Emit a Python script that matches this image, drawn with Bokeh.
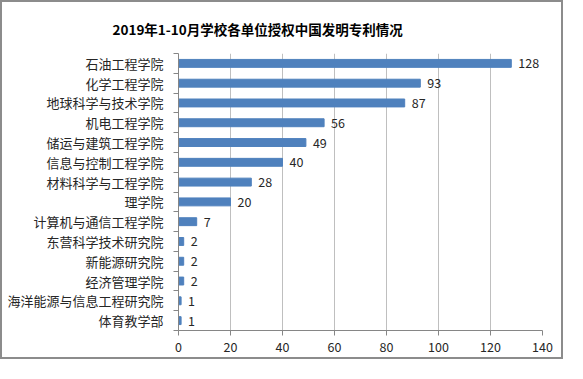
from bokeh.plotting import figure
from bokeh.models import ColumnDataSource, FixedTicker, Range1d, LabelSet
from bokeh.core.properties import value
from bokeh.embed import file_html
from bokeh.resources import INLINE

title_text = "2019年1-10月学校各单位授权中国发明专利情况"
units = ["石油工程学院", "化学工程学院", "地球科学与技术学院", "机电工程学院",
         "储运与建筑工程学院", "信息与控制工程学院", "材料科学与工程学院", "理学院",
         "计算机与通信工程学院", "东营科学技术研究院", "新能源研究院", "经济管理学院",
         "海洋能源与信息工程研究院", "体育教学部"]
counts = [128, 93, 87, 56, 49, 40, 28, 20, 7, 2, 2, 2, 1, 1]
x_ticks = [0, 20, 40, 60, 80, 100, 120, 140]

n = len(units)
ypos = [n - 1 - i + 0.5 for i in range(n)]
src = ColumnDataSource(dict(y=ypos, v=counts, name=units, lbl=[str(c) for c in counts]))

FONT = "Noto Sans CJK SC"
p = figure(width=563, height=359, output_backend="svg", toolbar_location=None,
           x_range=Range1d(0, 140), y_range=Range1d(0, n),
           min_border_left=176, min_border_right=23, min_border_top=50, min_border_bottom=31)
p.styles = {"border": "2px solid #8c8c8c"}
p.outline_line_color = None

p.title.text = title_text
p.title.text_font = FONT
p.title.text_font_size = "13.5px"
p.title.text_font_style = "bold"
p.title.align = "left"
p.title.offset = -66
p.title.standoff = 29
p.title.text_color = "#000000"

p.hbar(y="y", right="v", left=0, height=0.4, source=src, color="#4f81bd")

labels = LabelSet(x="v", y="y", text="lbl", source=src, x_offset=7, y_offset=0,
                  text_baseline="middle", text_font_size="12.5px", text_font=value(FONT),
                  text_color="#262626")
p.add_layout(labels)

# x axis
p.xaxis.ticker = FixedTicker(ticks=x_ticks)
p.xaxis.axis_line_color = "#868686"
p.xaxis.major_tick_line_color = "#868686"
p.xaxis.major_tick_out = 5
p.xaxis.major_tick_in = 0
p.xaxis.minor_tick_line_color = None
p.xaxis.major_label_text_font = FONT
p.xaxis.major_label_text_font_size = "12.5px"
p.xaxis.major_label_text_color = "#262626"
p.xaxis.major_label_standoff = 6

# y axis
p.yaxis.ticker = FixedTicker(ticks=ypos, minor_ticks=list(range(n + 1)))
p.yaxis.major_label_overrides = {y: nm for y, nm in zip(ypos, units)}
p.yaxis.axis_line_color = "#868686"
p.yaxis.major_tick_line_color = None
p.yaxis.minor_tick_line_color = "#868686"
p.yaxis.minor_tick_out = 5
p.yaxis.minor_tick_in = 0
p.yaxis.major_label_text_font = FONT
p.yaxis.major_label_text_font_size = "13px"
p.yaxis.major_label_text_color = "#262626"
p.yaxis.major_label_standoff = 9

p.xgrid.ticker = FixedTicker(ticks=x_ticks)
p.xgrid.grid_line_color = "#bfbfbf"
p.ygrid.grid_line_color = None

open("out.html", "w").write(file_html(p, INLINE))
